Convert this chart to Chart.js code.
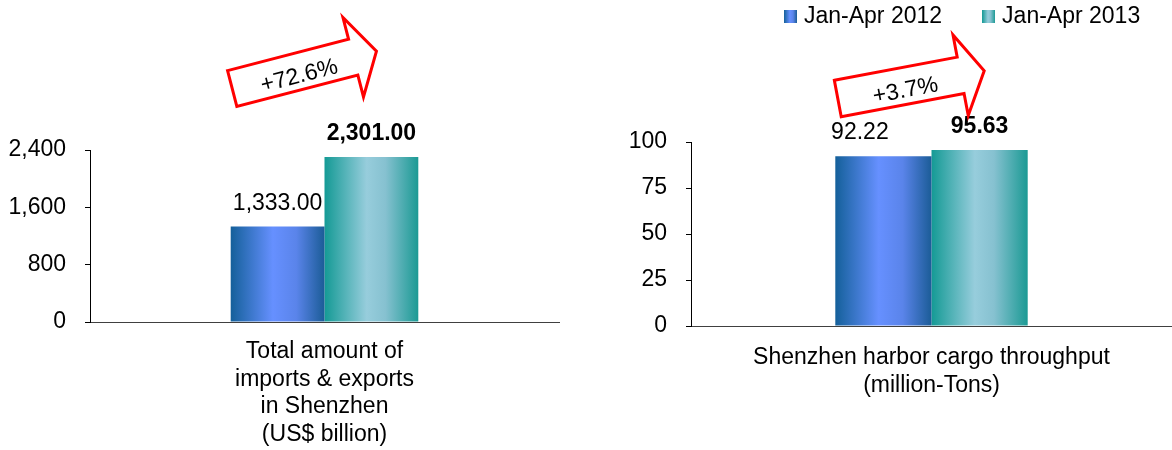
<!DOCTYPE html>
<html>
<head>
<meta charset="utf-8">
<script src="https://cdn.jsdelivr.net/npm/chart.js@4.4.0/dist/chart.umd.min.js"></script>
<style>
  body { margin: 0; background: #fff; }
  #wrap { position: relative; width: 1172px; height: 450px; overflow: hidden; }
  #left { position: absolute; left: 0; top: 0; }
  #right { position: absolute; left: 580px; top: 0; }
</style>
</head>
<body>
<div id="wrap">
  <canvas id="left" width="580" height="450"></canvas>
  <canvas id="right" width="592" height="450"></canvas>
</div>
<script>
// data
const seriesNames = ['Jan-Apr 2012', 'Jan-Apr 2013'];

const tradeLabel = [['Total amount of', 'imports & exports', 'in Shenzhen', '(US$ billion)']];
const trade2012 = [1333.00];
const trade2013 = [2301.00];
const tradeTicks = [0, 800, 1600, 2400];
const tradeGrowth = '+72.6%';

const cargoLabel = [['Shenzhen harbor cargo throughput', '(million-Tons)']];
const cargo2012 = [92.22];
const cargo2013 = [95.63];
const cargoTicks = [0, 25, 50, 75, 100];
const cargoGrowth = '+3.7%';

// bar shading (horizontal gradients, like the cylinder look)
const shades = [
  [[0, '#14609a'], [0.45, '#6690ff'], [0.7, '#5a84ea'], [1, '#1b5c97']],
  [[0, '#149a95'], [0.45, '#97cddc'], [0.65, '#86c1d0'], [1, '#1b9a94']]
];

Chart.defaults.font.family = "'Liberation Sans', Arial, sans-serif";
Chart.defaults.font.size = 23;
Chart.defaults.color = '#000';

function fillStops(g, stops) {
  stops.forEach(s => g.addColorStop(s[0], s[1]));
  return g;
}

// little legend swatches with the same gradient
const swatches = shades.map(stops => {
  const c = document.createElement('canvas');
  c.width = 13; c.height = 13;
  const cx = c.getContext('2d');
  cx.fillStyle = fillStops(cx.createLinearGradient(0, 0, 13, 0), stops);
  cx.fillRect(0, 0, 13, 13);
  return c;
});

const barShade = {
  id: 'barShade',
  beforeDatasetsDraw(chart) {
    const ctx = chart.ctx;
    chart.data.datasets.forEach((ds, i) => {
      chart.getDatasetMeta(i).data.forEach(bar => {
        const g = ctx.createLinearGradient(bar.x - bar.width / 2, 0, bar.x + bar.width / 2, 0);
        fillStops(g, shades[i]);
        bar.options = Object.assign({}, bar.options, { backgroundColor: g });
      });
    });
  }
};

const valueLabels = {
  id: 'valueLabels',
  afterDatasetsDraw(chart, args, opts) {
    const ctx = chart.ctx;
    ctx.save();
    ctx.textAlign = 'center';
    ctx.textBaseline = 'middle';
    ctx.fillStyle = '#000';
    chart.data.datasets.forEach((ds, i) => {
      ctx.font = (i === 1 ? 'bold ' : '') + "23px 'Liberation Sans', Arial, sans-serif";
      chart.getDatasetMeta(i).data.forEach((bar, j) => {
        const txt = ds.data[j].toLocaleString('en-US', { minimumFractionDigits: 2, maximumFractionDigits: 2 });
        ctx.fillText(txt, bar.x + (opts.dx[i] || 0), bar.y - opts.gap);
      });
    });
    ctx.restore();
  }
};

// red block arrow with the growth rate
const growthArrow = {
  id: 'growthArrow',
  afterDraw(chart, args, opts) {
    const ctx = chart.ctx;
    const bar = chart.getDatasetMeta(0).data[0];
    const x0 = bar.x - bar.width / 2 + opts.dx;
    const y0 = chart.chartArea.top + opts.dy;
    ctx.save();
    ctx.translate(x0, y0);
    ctx.rotate(opts.angle * Math.PI / 180);
    ctx.beginPath();
    ctx.moveTo(0, -18.5);
    ctx.lineTo(125, -18.5);
    ctx.lineTo(125, -41);
    ctx.lineTo(149, 0);
    ctx.lineTo(125, 41);
    ctx.lineTo(125, 18.5);
    ctx.lineTo(0, 18.5);
    ctx.closePath();
    ctx.fillStyle = '#fff';
    ctx.fill();
    ctx.lineWidth = 3;
    ctx.lineJoin = 'miter';
    ctx.strokeStyle = '#ff0000';
    ctx.stroke();
    ctx.fillStyle = '#000';
    ctx.font = "23px 'Liberation Sans', Arial, sans-serif";
    ctx.textAlign = 'center';
    ctx.textBaseline = 'middle';
    ctx.fillText(opts.text, 68, 5);
    ctx.restore();
  }
};

const legendPlace = {
  id: 'legendPlace',
  beforeLayout(chart, args, opts) {
    const lg = chart.legend;
    if (lg && !lg._patched) {
      const fit = lg.fit;
      lg.fit = function () {
        fit.call(this);
        this.height = opts.height;
      };
      lg._patched = true;
    }
  },
  afterLayout(chart, args, opts) {
    const lg = chart.legend;
    if (!lg) return;
    lg.left += opts.dx; lg.right += opts.dx;
    lg.top += opts.dy; lg.bottom += opts.dy;
  }
};

function yScale(ticks, width) {
  return {
    min: ticks[0],
    max: ticks[ticks.length - 1],
    ticks: {
      stepSize: ticks[1] - ticks[0],
      padding: 19,
      color: '#000',
      callback: v => v.toLocaleString('en-US')
    },
    grid: { drawOnChartArea: false, drawTicks: true, tickLength: 5, color: '#000' },
    border: { display: true, color: '#000', width: 1 },
    afterFit: s => { s.width = width; }
  };
}

function xScale(height, pad) {
  return {
    grid: { display: false, drawTicks: false },
    border: { display: true, color: '#404040', width: 1 },
    ticks: { color: '#000', padding: pad, maxRotation: 0, autoSkip: false, font: { size: 23, lineHeight: 1.2 } },
    afterFit: s => { s.height = height; }
  };
}

function datasets(a, b) {
  return [
    { label: seriesNames[0], data: a, backgroundColor: '#4f7fe0', borderWidth: 0, barPercentage: 1, categoryPercentage: 0.4 },
    { label: seriesNames[1], data: b, backgroundColor: '#5fb3bd', borderWidth: 0, barPercentage: 1, categoryPercentage: 0.4 }
  ];
}

new Chart(document.getElementById('left'), {
  type: 'bar',
  data: { labels: tradeLabel, datasets: datasets(trade2012, trade2013) },
  options: {
    responsive: false,
    animation: false,
    layout: { padding: { top: 150, right: 21, left: 0, bottom: 0 } },
    scales: { x: xScale(128, 16), y: yScale(tradeTicks, 90) },
    plugins: {
      legend: { display: false },
      tooltip: { enabled: false },
      valueLabels: { gap: 23, dx: [0, 0] },
      growthArrow: { text: tradeGrowth, angle: -14.5, dx: 1.5, dy: -61.5 }
    }
  },
  plugins: [barShade, valueLabels, growthArrow]
});

new Chart(document.getElementById('right'), {
  type: 'bar',
  data: { labels: cargoLabel, datasets: datasets(cargo2012, cargo2013) },
  options: {
    responsive: false,
    animation: false,
    layout: { padding: { top: 0, right: 0, left: 0, bottom: 0 } },
    scales: { x: xScale(124, 18), y: yScale(cargoTicks, 111) },
    plugins: {
      legend: {
        display: true,
        position: 'top',
        align: 'start',
        labels: {
          usePointStyle: true,
          pointStyleWidth: 4,
          padding: 44.5,
          color: '#000',
          font: { size: 23 },
          generateLabels: chart => chart.data.datasets.map((ds, i) => ({
            text: ds.label,
            pointStyle: swatches[i],
            fillStyle: 'rgba(0,0,0,0)',
            strokeStyle: 'rgba(0,0,0,0)',
            lineWidth: 0,
            hidden: false,
            datasetIndex: i,
            fontColor: '#000'
          }))
        }
      },
      legendPlace: { height: 142, dx: 164, dy: -39.5 },
      tooltip: { enabled: false },
      valueLabels: { gap: 23.5, dx: [-23.5, 0] },
      growthArrow: { text: cargoGrowth, angle: -10.7, dx: 2.5, dy: -43.5 }
    }
  },
  plugins: [legendPlace, barShade, valueLabels, growthArrow]
});
</script>
</body>
</html>
